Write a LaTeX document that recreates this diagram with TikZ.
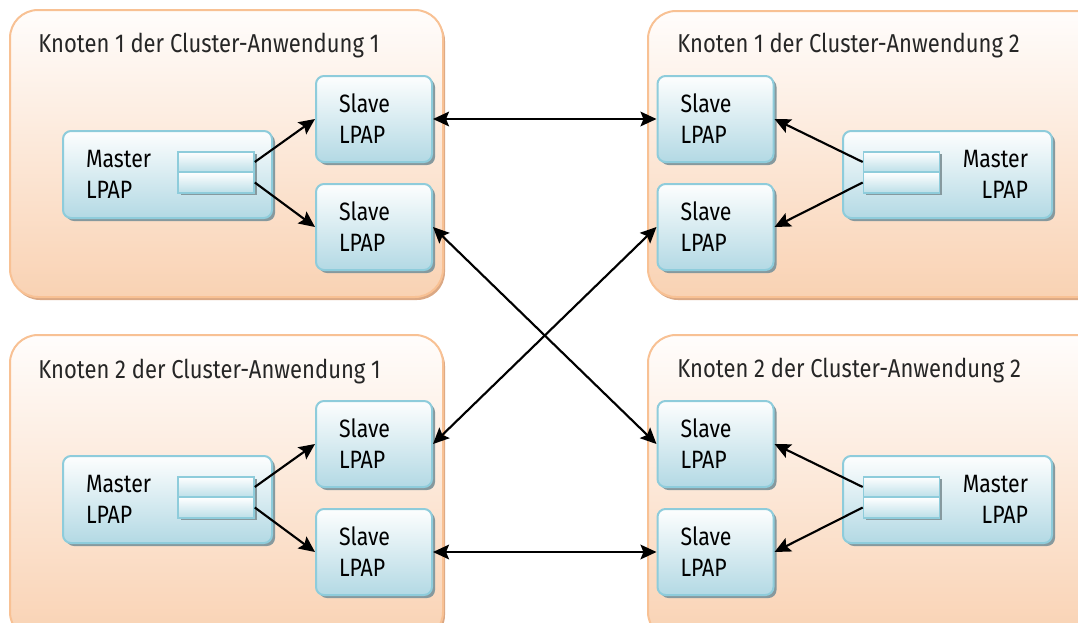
\documentclass[tikz,border=0pt]{standalone}
\usepackage{fontspec}
\setmainfont{Fira Sans}[FakeStretch=0.85]
\usetikzlibrary{arrows.meta,shadows}

\definecolor{clborder}{HTML}{F8C194}
\definecolor{cltop}{HTML}{FFFDFC}
\definecolor{clbot}{HTML}{F9D2B3}
\definecolor{clshadow}{HTML}{DBA884}
\definecolor{bxborder}{HTML}{8ECCDB}
\definecolor{bxtop}{HTML}{FDFEFE}
\definecolor{bxbot}{HTML}{B3D9E4}
\definecolor{bxshadow}{HTML}{86999E}
\definecolor{qbot}{HTML}{BCDFE8}

\tikzset{
  cluster/.style={draw=clborder, line width=1.5pt, rounded corners=21pt,
    top color=cltop, bottom color=clbot, inner sep=0pt,
    drop shadow={shadow xshift=1.5pt, shadow yshift=-2.25pt, fill=clshadow, opacity=1}},
  lpap/.style={draw=bxborder, line width=1.5pt, rounded corners=6pt,
    top color=bxtop, bottom color=bxbot, text=black, inner ysep=0pt,
    drop shadow={shadow xshift=2.25pt, shadow yshift=-2.25pt, fill=bxshadow, opacity=1}},
  slavebox/.style={lpap, align=left, minimum width=87pt, minimum height=64.5pt,
    text width=52.5pt, inner xsep=17.25pt},
  masterL/.style={lpap, align=left, minimum width=156.75pt, minimum height=65.25pt,
    text width=122.25pt, inner xsep=17.25pt},
  masterR/.style={lpap, align=right, minimum width=156.75pt, minimum height=65.25pt,
    text width=120.75pt, inner xsep=18pt},
  queue/.style={draw=bxborder, line width=1.2pt, top color=white, bottom color=qbot,
    minimum width=57pt, minimum height=15.4pt, inner sep=0pt,
    drop shadow={shadow xshift=2pt, shadow yshift=-2pt, fill=bxshadow, opacity=1}},
  title/.style={anchor=base west, inner sep=0pt, text=black!85,
    font=\fontsize{19.4}{23.25}\selectfont},
  tip/.tip={Stealth[length=12pt,width=11pt,inset=2.2pt]},
  link/.style={line width=1.6pt, -tip},
  dlink/.style={line width=1.6pt, tip-tip}
}

\begin{document}
\begin{tikzpicture}[x=0.75pt, y=-0.75pt, font=\fontsize{18.8}{23.25}\selectfont]
\useasboundingbox (0,0) rectangle (1078,622);
\clip (0,0) rectangle (1078,622);

% cluster nodes
\node[cluster, minimum width=324.75pt, minimum height=215.25pt] (clA1) at (226.5,153.5) {};
\node[cluster, minimum width=324.75pt, minimum height=228.75pt] (clA2) at (226.5,487.5) {};
\node[cluster, minimum width=346.5pt, minimum height=214.5pt] (clB1) at (879,154) {};
\node[cluster, minimum width=346.5pt, minimum height=228.75pt] (clB2) at (879,487.5) {};

\node[title] (tA1) at (38,52) {Knoten 1 der Cluster-Anwendung 1};
\node[title] (tA2) at (38,378) {Knoten 2 der Cluster-Anwendung 1};
\node[title] (tB1) at (677,52) {Knoten 1 der Cluster-Anwendung 2};
\node[title] (tB2) at (677,377) {Knoten 2 der Cluster-Anwendung 2};

% application 1, node 1
\node[masterL] (mA1) at (167.5,174.5) {Master\\LPAP};
\node[queue] (qA1a) at (216,162) {};
\node[queue] (qA1b) at (216,182.5) {};
\node[slavebox] (sA1a) at (374,119) {Slave\\LPAP};
\node[slavebox] (sA1b) at (374,227) {Slave\\LPAP};

% application 1, node 2
\node[masterL] (mA2) at (167.5,499.5) {Master\\LPAP};
\node[queue] (qA2a) at (216,487) {};
\node[queue] (qA2b) at (216,507.5) {};
\node[slavebox] (sA2a) at (374,444) {Slave\\LPAP};
\node[slavebox] (sA2b) at (374,552) {Slave\\LPAP};

% application 2, node 1
\node[masterR] (mB1) at (947.5,174.5) {Master\\LPAP};
\node[queue] (qB1a) at (901.5,162) {};
\node[queue] (qB1b) at (901.5,182.5) {};
\node[slavebox] (sB1a) at (715.5,119) {Slave\\LPAP};
\node[slavebox] (sB1b) at (715.5,227) {Slave\\LPAP};

% application 2, node 2
\node[masterR] (mB2) at (947.5,499.5) {Master\\LPAP};
\node[queue] (qB2a) at (901.5,487) {};
\node[queue] (qB2b) at (901.5,507.5) {};
\node[slavebox] (sB2a) at (715.5,444) {Slave\\LPAP};
\node[slavebox] (sB2b) at (715.5,552) {Slave\\LPAP};

% master queues feeding their slaves
\draw[link] (qA1a.east) -- (sA1a.west);
\draw[link] (qA1b.east) -- (sA1b.west);
\draw[link] (qA2a.east) -- (sA2a.west);
\draw[link] (qA2b.east) -- (sA2b.west);
\draw[link] (qB1a.west) -- (sB1a.east);
\draw[link] (qB1b.west) -- (sB1b.east);
\draw[link] (qB2a.west) -- (sB2a.east);
\draw[link] (qB2b.west) -- (sB2b.east);

% slave pairs across the applications
\draw[dlink] (sA1a.east) -- (sB1a.west);
\draw[dlink] (sA1b.east) -- (sB2a.west);
\draw[dlink] (sA2a.east) -- (sB1b.west);
\draw[dlink] (sA2b.east) -- (sB2b.west);
\end{tikzpicture}
\end{document}
